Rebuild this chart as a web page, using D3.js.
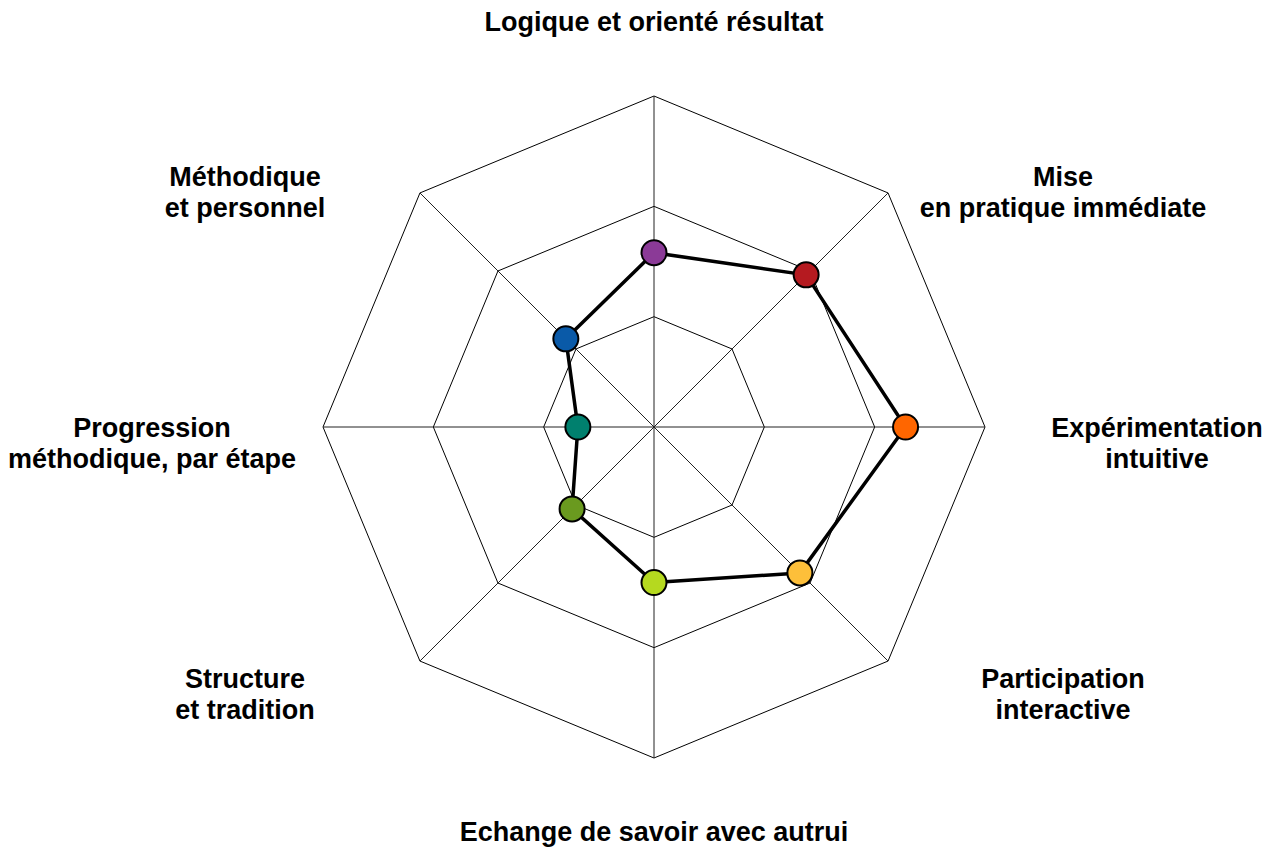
<!DOCTYPE html>
<html>
<head>
<meta charset="utf-8">
<script src="https://cdnjs.cloudflare.com/ajax/libs/d3/7.8.5/d3.min.js"></script>
<style>
  body { margin: 0; background: #fff; }
  .axisLabel { font-family: "Liberation Sans", Arial, Helvetica, sans-serif; font-weight: bold; font-size: 27px; fill: #000; }
</style>
</head>
<body>
<div id="chart"></div>
<script>
//axis names, clockwise from the top
var axisNames = [
    ["Logique et orienté résultat"],
    ["Mise", "en pratique immédiate"],
    ["Expérimentation", "intuitive"],
    ["Participation", "interactive"],
    ["Echange de savoir avec autrui"],
    ["Structure", "et tradition"],
    ["Progression", "méthodique, par étape"],
    ["Méthodique", "et personnel"]
];
var scores = [1.58, 1.95, 2.28, 1.87, 1.41, 1.05, 0.69, 1.13];
var pointColors = ["#8b3a97", "#b51a20", "#ff6600", "#fdbf3a", "#b5d91f", "#6a9a1f", "#00806e", "#0a5aa8"];
var gridLevels = [1, 2, 3];

//frame
var width = 1274,
    height = 851,
    cx = 654,
    cy = 427,
    outerRadius = 331,
    lineHeight = 31;

//label block centres, relative to chart centre
var labelPos = [[0, -405], [409, -235], [503, 16], [409, 267], [0, 405], [-409, 267], [-502, 16], [-409, -235]];

var r = d3.scaleLinear()
    .domain([0, d3.max(gridLevels)])
    .range([0, outerRadius]);

var angle = d3.scaleLinear()
    .domain([0, axisNames.length])
    .range([0, 2 * Math.PI]);

function px(i, v) { return cx + r(v) * Math.sin(angle(i)); }
function py(i, v) { return cy - r(v) * Math.cos(angle(i)); }

var svg = d3.select("#chart")
    .append("svg")
    .attr("width", width)
    .attr("height", height);

//octagon grid
var ring = d3.line().x(function(d) { return d[0]; }).y(function(d) { return d[1]; }).curve(d3.curveLinearClosed);
svg.selectAll(".grid")
    .data(gridLevels)
    .enter()
    .append("path")
    .attr("class", "grid")
    .attr("d", function(lv) { return ring(axisNames.map(function(n, i) { return [px(i, lv), py(i, lv)]; })); })
    .style("fill", "none")
    .style("stroke", "#000")
    .style("stroke-width", 1);

//spokes
svg.selectAll(".spoke")
    .data(axisNames)
    .enter()
    .append("line")
    .attr("class", "spoke")
    .attr("x1", cx).attr("y1", cy)
    .attr("x2", function(d, i) { return px(i, d3.max(gridLevels)); })
    .attr("y2", function(d, i) { return py(i, d3.max(gridLevels)); })
    .style("stroke", "#222")
    .style("stroke-width", 1);

//score outline
svg.append("path")
    .attr("d", ring(scores.map(function(v, i) { return [px(i, v), py(i, v)]; })))
    .style("fill", "none")
    .style("stroke", "#000")
    .style("stroke-width", 3.5)
    .style("stroke-linejoin", "round");

//score markers
svg.selectAll(".dot")
    .data(scores)
    .enter()
    .append("circle")
    .attr("class", "dot")
    .attr("cx", function(d, i) { return px(i, d); })
    .attr("cy", function(d, i) { return py(i, d); })
    .attr("r", 12.5)
    .style("fill", function(d, i) { return pointColors[i]; })
    .style("stroke", "#000")
    .style("stroke-width", 2);

//axis labels
var labels = svg.selectAll(".axisLabel")
    .data(axisNames)
    .enter()
    .append("text")
    .attr("class", "axisLabel")
    .attr("text-anchor", "middle")
    .attr("transform", function(d, i) {
        var n = d.length;
        return "translate(" + (cx + labelPos[i][0]) + "," + (cy + labelPos[i][1] - (n - 1) * lineHeight / 2) + ")";
    });

labels.selectAll("tspan")
    .data(function(d) { return d; })
    .enter()
    .append("tspan")
    .attr("x", 0)
    .attr("y", function(d, j) { return j * lineHeight; })
    .attr("dy", "0.35em")
    .text(function(d) { return d; });
</script>
</body>
</html>
